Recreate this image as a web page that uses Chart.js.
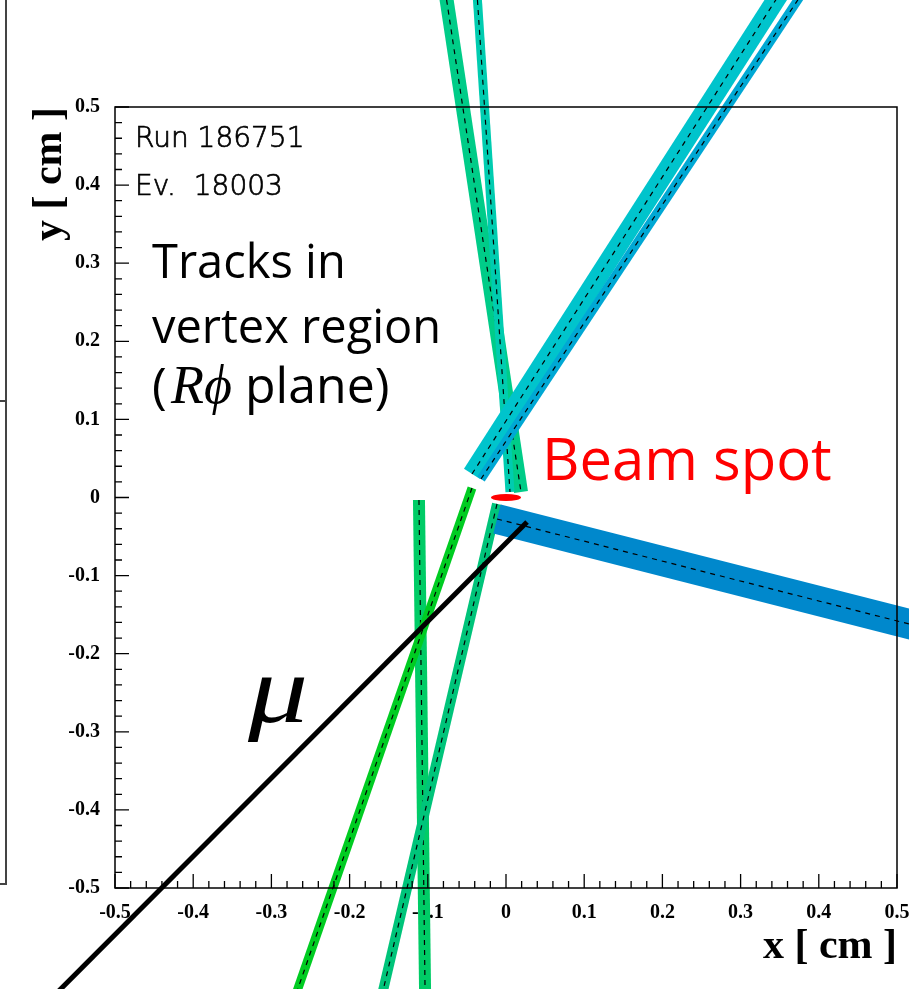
<!DOCTYPE html>
<html>
<head>
<meta charset="utf-8">
<script src="https://cdn.jsdelivr.net/npm/chart.js@4.4.1/dist/chart.umd.min.js"></script>
<style>
  html, body { margin: 0; padding: 0; background: #fff; overflow: hidden; }
  #wrap { width: 909px; height: 989px; }
</style>
</head>
<body>
<div id="wrap"><canvas id="vtx"></canvas></div>
<script>
// tick labels (cm)
const xTickValues = [-0.5, -0.4, -0.3, -0.2, -0.1, 0, 0.1, 0.2, 0.3, 0.4, 0.5];
const yTickValues = [-0.5, -0.4, -0.3, -0.2, -0.1, 0, 0.1, 0.2, 0.3, 0.4, 0.5];

// track end points [x, y] in cm
const trackD = [[-0.1113, -0.0032], [-0.1032, -0.656]];
const trackE = [[-0.0435, 0.0122], [-0.2755, -0.656]];
const trackC = [[-0.0115, -0.0083], [-0.163, -0.656]];
const trackA = [[-0.0798, 0.6626], [0.0192, 0.0070]];
const trackB = [[-0.0382, 0.6626], [0.0051, 0.0070]];
const cyanLeft = [[-0.0435, 0.0301], [0.3613, 0.6626]];
const cyanRight = [[-0.032, 0.0237], [0.390, 0.6626]];
const blueTrack = [[-0.0115, -0.0275], [0.5806, -0.1786]];
const muonTrack = [[0.0269, -0.0314], [-0.596, -0.656]];

// beam spot: centre and half sizes (cm)
const beamSpot = [0, 0];
const beamSize = [0.0192, 0.0045];

const toPts = arr => arr.map(p => ({ x: p[0], y: p[1] }));

function band(pts, color, width) {
  return {
    data: toPts(pts), showLine: true, borderColor: color, borderWidth: width,
    pointRadius: 0, clip: false, borderCapStyle: 'butt', tension: 0
  };
}
function dashed(pts) {
  return {
    data: toPts(pts), showLine: true, borderColor: '#000', borderWidth: 1.2,
    borderDash: [5, 5], pointRadius: 0, clip: false, borderCapStyle: 'butt', tension: 0
  };
}

// bottom to top
let sets = [
  band(trackD, '#00cc66', 12), dashed(trackD),
  band(trackE, '#00cc22', 9), dashed(trackE),
  band(trackC, '#00c47a', 10), dashed(trackC),
  band(trackA, '#00cc88', 14), dashed(trackA),
  band(trackB, '#00ccb0', 9), dashed(trackB),
  band(cyanLeft, '#00c4cc', 19), dashed(cyanLeft),
  band(cyanRight, '#00a8d4', 9), dashed(cyanRight),
  band(blueTrack, '#0088cc', 30), dashed(blueTrack),
  band(muonTrack, '#000000', 5)
];
// chart.js paints dataset 0 last
sets = sets.reverse();

const frame = {
  id: 'frame',
  afterDatasetsDraw(chart) {
    const c = chart.ctx, a = chart.chartArea;
    const xs = chart.scales.x, ys = chart.scales.y;
    c.save();

    // beam spot
    const bx = xs.getPixelForValue(beamSpot[0]), by = ys.getPixelForValue(beamSpot[1]);
    const rx = xs.getPixelForValue(beamSpot[0] + beamSize[0]) - bx;
    const ry = by - ys.getPixelForValue(beamSpot[1] + beamSize[1]);
    c.fillStyle = '#ff0000';
    c.beginPath();
    c.ellipse(bx, by, rx, ry, 0, 0, Math.PI * 2);
    c.fill();

    // frame
    c.strokeStyle = '#000';
    c.lineWidth = 1.5;
    c.strokeRect(a.left, a.top, a.right - a.left, a.bottom - a.top);

    // inward ticks, 5 divisions per major
    c.lineWidth = 1.3;
    c.beginPath();
    for (let i = 0; i < xTickValues.length; i++) {
      const v = xTickValues[i];
      const px = xs.getPixelForValue(v);
      c.moveTo(px, a.bottom); c.lineTo(px, a.bottom - 14);
      if (i < xTickValues.length - 1) {
        const step = (xTickValues[i + 1] - v) / 5;
        for (let k = 1; k < 5; k++) {
          const mx = xs.getPixelForValue(v + k * step);
          c.moveTo(mx, a.bottom); c.lineTo(mx, a.bottom - 7);
        }
      }
    }
    for (let i = 0; i < yTickValues.length; i++) {
      const v = yTickValues[i];
      const py = ys.getPixelForValue(v);
      c.moveTo(a.left, py); c.lineTo(a.left + 14, py);
      if (i < yTickValues.length - 1) {
        const step = (yTickValues[i + 1] - v) / 5;
        for (let k = 1; k < 5; k++) {
          const my = ys.getPixelForValue(v + k * step);
          c.moveTo(a.left, my); c.lineTo(a.left + 7, my);
        }
      }
    }
    c.stroke();

    // stray pad border at the far left
    c.strokeStyle = '#444';
    c.lineWidth = 2;
    c.beginPath();
    c.moveTo(6, 0); c.lineTo(6, 884); c.lineTo(0, 884);
    c.moveTo(0, 401); c.lineTo(6, 401);
    c.stroke();

    // texts
    c.fillStyle = '#000';
    c.strokeStyle = '#000';
    c.textBaseline = 'alphabetic';
    c.textAlign = 'left';
    c.font = '200 28px "DejaVu Sans"';
    c.lineWidth = 0.7;
    c.fillText('Run 186751', 135, 147);
    c.strokeText('Run 186751', 135, 147);
    c.fillText('Ev.  18003', 135, 195);
    c.strokeText('Ev.  18003', 135, 195);

    c.font = '47px "Open Sans"';
    c.fillText('Tracks in', 152, 278);
    c.fillText('vertex region', 152, 343);
    c.font = '50px "Open Sans"';
    c.fillText('(', 152, 403);
    c.font = 'italic 54px "Liberation Serif"';
    c.fillText('R\u03D5', 171, 403);
    c.font = '50px "Open Sans"';
    c.fillText('plane)', 245, 403);

    c.save();
    c.translate(248, 722);
    c.scale(1.25, 1);
    c.font = 'italic 96px "Liberation Serif"';
    c.fillText('\u03BC', 0, 0);
    c.restore();

    c.fillStyle = '#ff0000';
    c.font = '58px "Open Sans"';
    c.fillText('Beam spot', 542, 480);
    c.restore();
  }
};

const tickFont = { family: '"Liberation Serif"', size: 20, weight: 'bold' };
const titleFont = { family: '"Liberation Serif"', size: 42, weight: 'bold' };

new Chart(document.getElementById('vtx'), {
  type: 'scatter',
  data: { datasets: sets },
  options: {
    responsive: true,
    maintainAspectRatio: false,
    animation: false,
    events: [],
    layout: { padding: { top: 107, right: 12, left: 0, bottom: 0 } },
    plugins: { legend: { display: false }, tooltip: { enabled: false } },
    scales: {
      x: {
        type: 'linear', min: -0.5, max: 0.5,
        afterBuildTicks: s => { s.ticks = xTickValues.map(v => ({ value: v })); },
        afterFit: s => { s.height = 101; s.paddingLeft = 0; s.paddingRight = 0; },
        grid: { display: false, drawTicks: false },
        border: { display: false },
        ticks: { color: '#000', font: tickFont, padding: 13, maxRotation: 0, autoSkip: false },
        title: { display: true, text: 'x [ cm ]', align: 'end', color: '#000', font: titleFont, padding: { top: 0, bottom: 17 } }
      },
      y: {
        type: 'linear', min: -0.5, max: 0.5,
        afterBuildTicks: s => { s.ticks = yTickValues.map(v => ({ value: v })); },
        afterFit: s => { s.width = 115; s.paddingTop = 0; s.paddingBottom = 0; },
        grid: { display: false, drawTicks: false },
        border: { display: false },
        ticks: { color: '#000', font: tickFont, padding: 15, autoSkip: false },
        title: { display: true, text: 'y [ cm ]', align: 'end', color: '#000', font: titleFont, padding: { top: 25, bottom: 0 } }
      }
    }
  },
  plugins: [frame]
});
</script>
</body>
</html>
